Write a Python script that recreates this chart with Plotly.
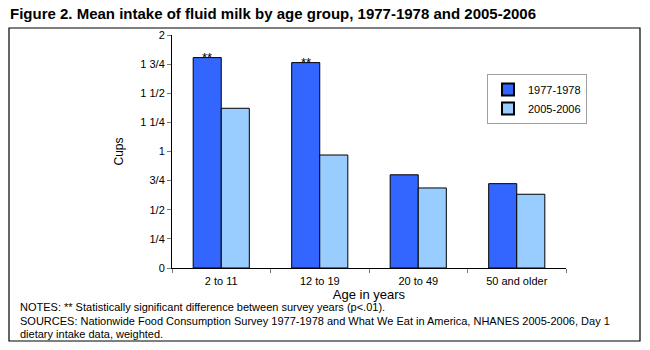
import plotly.graph_objects as go

categories = ["2 to 11", "12 to 19", "20 to 49", "50 and older"]
series_names = ["1977-1978", "2005-2006"]
values_1977 = [1.806, 1.763, 0.80, 0.724]
values_2005 = [1.371, 0.970, 0.687, 0.633]
significant = [True, True, False, False]
tick_vals = [0, 0.25, 0.5, 0.75, 1, 1.25, 1.5, 1.75, 2]
tick_text = ["0", "1/4", "1/2", "3/4", "1", "1 1/4", "1 1/2", "1 3/4", "2"]

FONT = "Liberation Sans, Arial, sans-serif"

fig = go.Figure()
fig.add_trace(go.Bar(x=categories, y=values_1977, name=series_names[0],
                     marker=dict(color="#3366FF", line=dict(color="black", width=1))))
fig.add_trace(go.Bar(x=categories, y=values_2005, name=series_names[1],
                     marker=dict(color="#99CCFF", line=dict(color="black", width=1))))

for c, v, s in zip(categories, values_1977, significant):
    if s:
        fig.add_annotation(x=c, y=v, xref="x", yref="y", text="**", showarrow=False,
                           xshift=-14, yshift=-9, yanchor="bottom",
                           font=dict(family=FONT, size=13, color="black"))

W, H = 650, 350
L, R, T, B = 172, 84, 35, 82
pw, ph = W - L - R, H - T - B

def px_x(p):
    return (p - L) / pw

def px_y(p):
    return (H - B - p) / ph

fig.add_shape(type="rect", xref="paper", yref="paper",
              x0=px_x(9), x1=px_x(640), y0=px_y(341), y1=px_y(28),
              line=dict(color="black", width=1.2), fillcolor="rgba(0,0,0,0)", layer="below")

fig.add_annotation(xref="paper", yref="paper", x=px_x(8), y=px_y(14), xanchor="left", yanchor="middle",
                   text="<b>Figure 2. Mean intake of fluid milk by age group, 1977-1978 and 2005-2006</b>",
                   showarrow=False, font=dict(family="Liberation Sans Narrow, " + FONT, size=15, color="black"))

notes = [
    "NOTES: ** Statistically significant difference between survey years (p<.01).",
    "SOURCES: Nationwide Food Consumption Survey 1977-1978 and What We Eat in America, NHANES 2005-2006, Day 1",
    "dietary intake data, weighted.",
]
for i, line in enumerate(notes):
    fig.add_annotation(xref="paper", yref="paper", x=px_x(18), y=px_y(307 + i * 13.5),
                       xanchor="left", yanchor="middle", text=line, showarrow=False,
                       font=dict(family=FONT, size=11, color="black"))

fig.update_layout(
    width=W, height=H,
    margin=dict(l=L, r=R, t=T, b=B),
    paper_bgcolor="white", plot_bgcolor="white",
    barmode="group", bargap=0.43, bargroupgap=0,
    font=dict(family=FONT, size=11, color="black"),
    showlegend=True,
    legend=dict(x=px_x(487), y=px_y(74), xanchor="left", yanchor="top",
                bordercolor="#A0A0A0", borderwidth=1, bgcolor="white",
                itemwidth=30, itemsizing="constant",
                font=dict(family=FONT, size=11, color="black"), tracegroupgap=2),
    xaxis=dict(showline=True, linecolor="black", linewidth=1, ticks="outside", ticklen=4,
               tickson="boundaries", tickcolor="#777", showgrid=False, ticklabelstandoff=3,
               title=dict(text="Age in years", font=dict(family=FONT, size=13), standoff=2),
               tickfont=dict(family=FONT, size=11)),
    yaxis=dict(range=[0, 2], tickvals=tick_vals, ticktext=tick_text, showline=True,
               linecolor="black", linewidth=1, ticks="outside", ticklen=4, tickcolor="#777",
               showgrid=False, zeroline=False,
               title=dict(text="Cups", font=dict(family=FONT, size=12), standoff=14),
               tickfont=dict(family=FONT, size=11)),
)

fig.write_html("out.html")
